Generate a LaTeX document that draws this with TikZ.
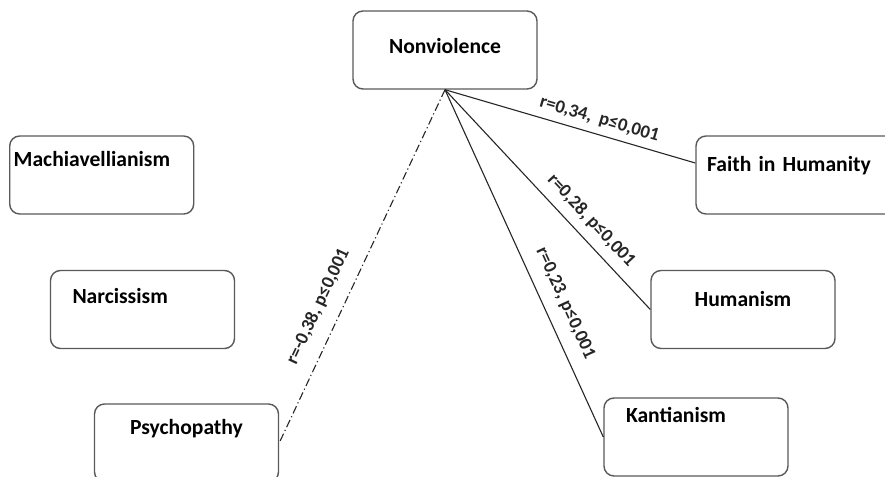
\documentclass[tikz,border=0pt]{standalone}
\usepackage{fontspec}
\setmainfont{Carlito}

\begin{document}
\begin{tikzpicture}[
  x=0.5pt, y=-0.5pt,
  box/.style={draw=black!65, line width=0.7pt, rounded corners=5pt, align=center,
              minimum width=92pt, minimum height=39pt, text height=8pt, text depth=#1,
              font=\fontsize{10.8}{13}\selectfont\bfseries},
  box/.default=15pt,
  link/.style={black!85, line width=0.55pt},
  dashlink/.style={link, dash pattern=on 4pt off 1.5pt on 0.6pt off 1.5pt},
  lab/.style={sloped, font=\fontsize{9.3}{11}\selectfont\bfseries}
]
\useasboundingbox (0,0) rectangle (885,477);

\node[box=4.4pt] (nonv) at (445,50) {Nonviolence};

\node[box=16.7pt, align=left, inner xsep=2pt, text width=88pt] (mach) at (101.7,175) {Machiavellianism};
\node[box=14.2pt, align=left, inner xsep=11pt, text width=70pt] (narc) at (142.5,309.5) {Narcissism};
\node[box=16.2pt] (psych) at (186.5,443) {Psychopathy};

\node[box=11.2pt, align=left, inner xsep=5.5pt, text width=96pt] (faith) at (803,175) {Faith in Humanity};
\node[box=10.7pt] (hum) at (743,309.5) {Humanism};
\node[box=22.7pt, align=left, inner xsep=11pt, text width=70pt] (kant) at (696,437) {Kantianism};

\draw[link] (nonv.south) -- node[lab, above, pos=0.6] {r=0,34,\kern4pt p≤0,001} ([yshift=6pt]faith.west);
\draw[link] (nonv.south) -- node[lab, above=1.2pt, pos=0.65] {r=0,28, p≤0,001} (hum.west);
\draw[link] (nonv.south) -- node[lab, above=3pt, pos=0.64] {r=0,23, p≤0,001} (kant.west);
\draw[dashlink] (nonv.south) -- node[lab, above=3.8pt, pos=0.64] {r=-0,38, p≤0,001} (psych.east);
\end{tikzpicture}
\end{document}
